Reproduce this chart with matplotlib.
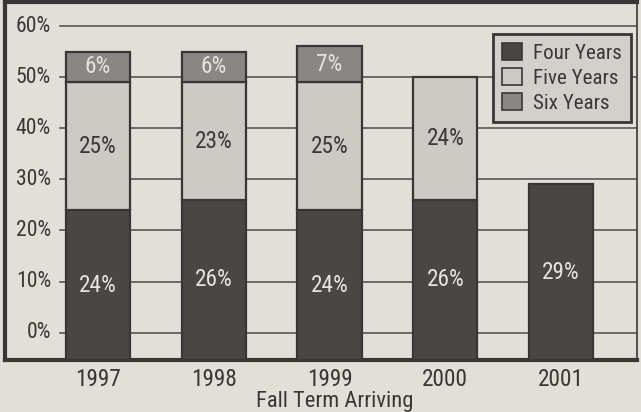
import numpy as np
import matplotlib
matplotlib.use("Agg")
import matplotlib.pyplot as plt
from matplotlib.patches import Patch
from matplotlib import font_manager

years = ["1997", "1998", "1999", "2000", "2001"]
four_years = [24, 26, 24, 26, 29]
five_years = [25, 23, 25, 24, None]
six_years = [6, 6, 7, None, None]
series_names = ["Four Years", "Five Years", "Six Years"]
y_ticks = [0, 10, 20, 30, 40, 50, 60]
x_title = "Fall Term Arriving"

names = sorted({f.name for f in font_manager.fontManager.ttflist})
pref = ["Liberation Sans Narrow", "Arial Narrow", "Roboto Condensed",
        "Open Sans Condensed"]
cands = [n for n in pref if n in names] + \
        [n for n in names if ("Narrow" in n or "Condensed" in n)]
FONT = cands[0] if cands else "Liberation Sans"
sc = 1.08 if cands else 0.93
plt.rcParams["font.family"] = [FONT, "DejaVu Sans"]

BG = "#e2ded8"
DARK = "#4a4646"
FIVE = "#cdcac5"
SIX = "#8a8685"
LINE = "#3a3636"
TXT = "#3a3737"
LIGHT_TXT = "#e6e2de"

W, H = 641, 412
fig = plt.figure(figsize=(W / 100, H / 100), dpi=100, facecolor=BG)
ax = fig.add_axes([5 / W, 1 - 360 / H, (637 - 5) / W, (360 - 2) / H])
ax.set_facecolor(BG)

ymin, ymax = -5.34, 64.7
ax.set_ylim(ymin, ymax)
ax.set_xlim(-0.8035, 4.6566)

for t in y_ticks:
    ax.axhline(t, xmin=55 / 632, xmax=1, color="#5a5656", lw=1.2, zorder=1)
    ax.text(46 / 632, t, f"{t}%", transform=ax.get_yaxis_transform(),
            ha="right", va="center", fontsize=14.5 * sc, color=TXT)

x = np.arange(len(years))
width = 0.553
for i in range(len(years)):
    bottom = ymin
    segs = [(four_years[i], DARK, LIGHT_TXT), (five_years[i], FIVE, TXT),
            (six_years[i], SIX, LIGHT_TXT)]
    top_val = 0
    for val, col, tcol in segs:
        if val is None:
            continue
        top_val += val
        ax.bar(x[i], top_val - bottom, bottom=bottom, width=width, color=col,
               edgecolor=LINE, linewidth=1.6, zorder=3)
        ax.text(x[i], (bottom + top_val) / 2, f"{val}%", ha="center", va="center",
                fontsize=15.5 * sc, color=tcol, zorder=4)
        bottom = top_val

ax.set_xticks([])
ax.set_yticks([])
for side in ["left", "top", "bottom"]:
    ax.spines[side].set_linewidth(3)
    ax.spines[side].set_color(LINE)
ax.spines["right"].set_linewidth(1.2)
ax.spines["right"].set_color(LINE)

for i, yr in enumerate(years):
    fig.text((98 + 115.75 * i) / W, 1 - 379 / H, yr, ha="center",
             va="center", fontsize=15.5 * sc, color=LINE)
fig.text(335 / W, 1 - 401 / H, x_title, ha="center", va="center",
         fontsize=15 * sc, color=LINE)

handles = [Patch(facecolor=c, edgecolor=LINE, linewidth=1.2) for c in (DARK, FIVE, SIX)]
leg = ax.legend(handles, series_names, loc="upper right",
                bbox_to_anchor=(631 / W, 1 - 34 / H), bbox_transform=fig.transFigure,
                fancybox=False, frameon=True, framealpha=1, facecolor="#d3cfca",
                edgecolor=LINE, borderaxespad=0, handlelength=0.95, handleheight=0.8,
                handletextpad=0.5, labelspacing=0.27, borderpad=0.45,
                prop={"family": [FONT, "DejaVu Sans"], "size": 14 * sc})
leg.get_frame().set_linewidth(2)
leg.set_zorder(5)
for t in leg.get_texts():
    t.set_color(TXT)

fig.savefig("out.png", dpi=100, facecolor=BG)
